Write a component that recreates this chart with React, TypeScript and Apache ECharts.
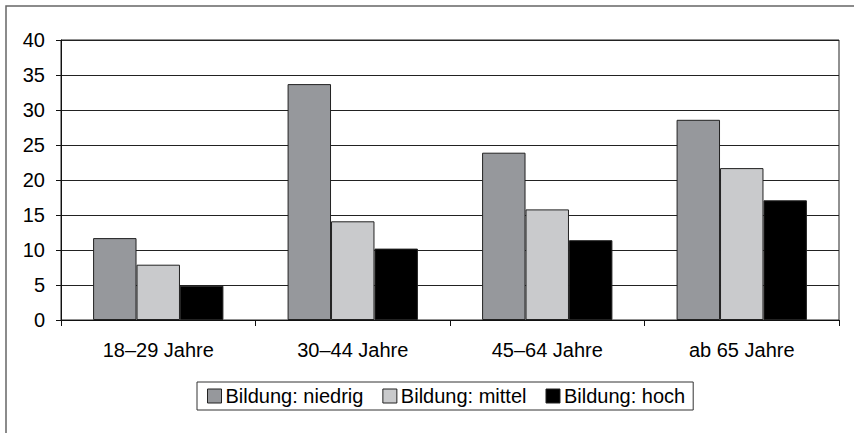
import React, { useEffect, useRef } from "react";
import * as echarts from "echarts";

const categories = ["18–29 Jahre", "30–44 Jahre", "45–64 Jahre", "ab 65 Jahre"];
const seriesNames = ["Bildung: niedrig", "Bildung: mittel", "Bildung: hoch"];
const niedrig = [11.7, 33.7, 23.9, 28.6];
const mittel = [7.9, 14.1, 15.8, 21.7];
const hoch = [4.9, 10.2, 11.4, 17.1];
const yTicks = { min: 0, max: 40, interval: 5 };

const seriesColors = ["#96989c", "#c9cacc", "#000000"];
const font = "'Liberation Sans', Arial, sans-serif";

export default function App() {
  const ref = useRef<HTMLDivElement>(null);

  useEffect(() => {
    if (!ref.current) return;
    const chart = echarts.init(ref.current, null, { renderer: "svg" });
    const values = [niedrig, mittel, hoch];
    chart.setOption({
      animation: false,
      backgroundColor: "#ffffff",
      textStyle: { fontFamily: font, color: "#000" },
      graphic: [
        {
          type: "rect",
          shape: { x: 6, y: 6, width: 1000, height: 600 },
          style: { fill: "none", stroke: "#666", lineWidth: 1.5 },
          silent: true,
        },
      ],
      grid: {
        left: 61,
        right: 15,
        top: 40,
        bottom: 113,
        show: true,
        borderColor: "#222",
        borderWidth: 1,
        outerBoundsMode: "none",
      },
      legend: {
        left: 197,
        top: 382,
        padding: [4, 8, 4, 10],
        itemGap: 19,
        itemWidth: 14,
        itemHeight: 14,
        icon: "rect",
        borderColor: "#333",
        borderWidth: 1,
        textStyle: { fontFamily: font, fontSize: 20, color: "#000", padding: [0, 0, 0, -1] },
        itemStyle: { borderColor: "#222", borderWidth: 1 },
        data: seriesNames,
      },
      xAxis: {
        type: "category",
        data: categories,
        axisLine: { lineStyle: { color: "#111", width: 1 } },
        axisTick: { show: true, length: 6, lineStyle: { color: "#111" } },
        axisLabel: { fontFamily: font, fontSize: 20, color: "#000", margin: 20 },
      },
      yAxis: {
        type: "value",
        min: yTicks.min,
        max: yTicks.max,
        interval: yTicks.interval,
        axisLine: { show: true, lineStyle: { color: "#111", width: 1 } },
        axisTick: { show: true, length: 5, lineStyle: { color: "#111" } },
        axisLabel: { fontFamily: font, fontSize: 20, color: "#000", margin: 16 },
        splitLine: { show: true, lineStyle: { color: "#222", width: 1 } },
      },
      series: seriesNames.map((name, i) => ({
        name,
        type: "bar",
        data: values[i],
        barGap: "0%",
        barCategoryGap: "33%",
        itemStyle: { color: seriesColors[i], borderColor: "#222", borderWidth: 1 },
      })),
    });
    return () => chart.dispose();
  }, []);

  return (
    <div
      ref={ref}
      style={{ position: "fixed", left: 0, top: 0, width: 854, height: 433, background: "#fff" }}
    />
  );
}
